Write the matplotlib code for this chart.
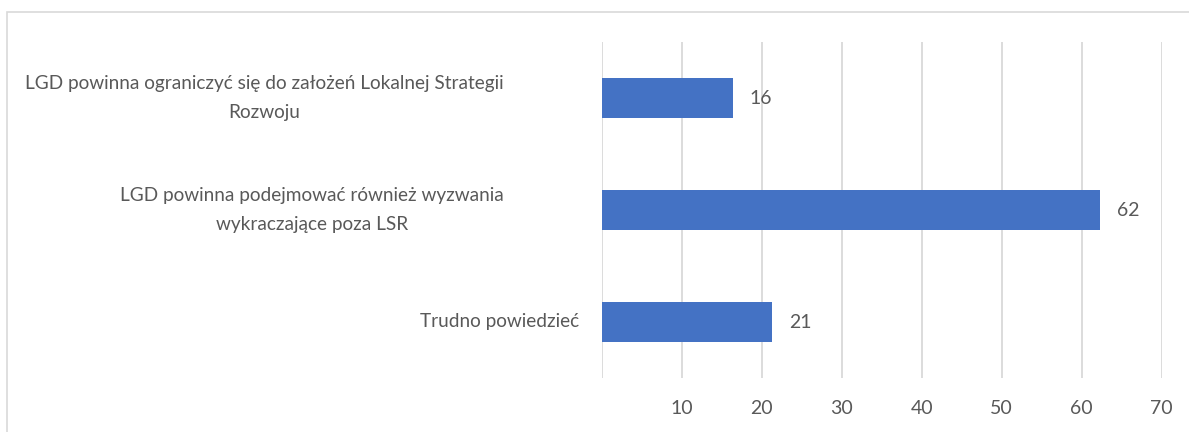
import matplotlib
matplotlib.use("Agg")
import matplotlib.pyplot as plt
from matplotlib.patches import Rectangle

categories = [
    "LGD powinna ograniczyć się do założeń Lokalnej Strategii\nRozwoju",
    "LGD powinna podejmować również wyzwania\nwykraczające poza LSR",
    "Trudno powiedzieć",
]
values = [16.4, 62.3, 21.3]
value_labels = ["16", "62", "21"]
xticks = [10, 20, 30, 40, 50, 60, 70]

W, H, DPI = 1189, 432, 100
plt.rcParams['font.family'] = ['Lato', 'DejaVu Sans']
fig = plt.figure(figsize=(W / DPI, H / DPI), dpi=DPI)
fig.patch.set_facecolor('white')

x0, x1 = 601.7, 1161.7
ytop, ybot = 42, 378
ax = fig.add_axes([x0 / W, (H - ybot) / H, (x1 - x0) / W, (ybot - ytop) / H])

grid_c = '#d9d9d9'
text_c = '#595959'
bar_c = '#4472C4'

ypos = list(range(len(categories)))
ax.barh(ypos, values, height=0.355, color=bar_c, zorder=3)
ax.set_xlim(0, 70)
ax.set_ylim(len(categories) - 0.5, -0.5)

for xv in [0] + xticks:
    ax.axvline(xv, color=grid_c, lw=1.3, zorder=1)

ax.set_xticks(xticks)
ax.set_xticklabels([str(t) for t in xticks], color=text_c, fontsize=14)
ax.tick_params(axis='x', length=0, pad=16)
ax.set_yticks([])
for s in ax.spines.values():
    s.set_visible(False)

# category labels
right_edges = [504, 504, 579]
for y, lab, re in zip(ypos, categories, right_edges):
    ax.annotate(lab, xy=(0, y), xycoords=('axes fraction', 'data'),
                xytext=(-(x0 - re) * 72 / DPI, 0), textcoords='offset points',
                ha='right', va='center', multialignment='center',
                color=text_c, fontsize=13.7, linespacing=1.8)

# data labels
for y, v, lab in zip(ypos, values, value_labels):
    ax.annotate(lab, xy=(v, y), xytext=(17 * 72 / DPI, 0), textcoords='offset points',
                ha='left', va='center', color=text_c, fontsize=14)

# outer border
fig.patches.append(Rectangle((7 / W, -0.05), 1.2, (H - 12) / H + 0.05,
                             transform=fig.transFigure, fill=False,
                             edgecolor='#d9d9d9', lw=1.2, zorder=0))

fig.savefig('out.png', dpi=DPI, facecolor='white')
